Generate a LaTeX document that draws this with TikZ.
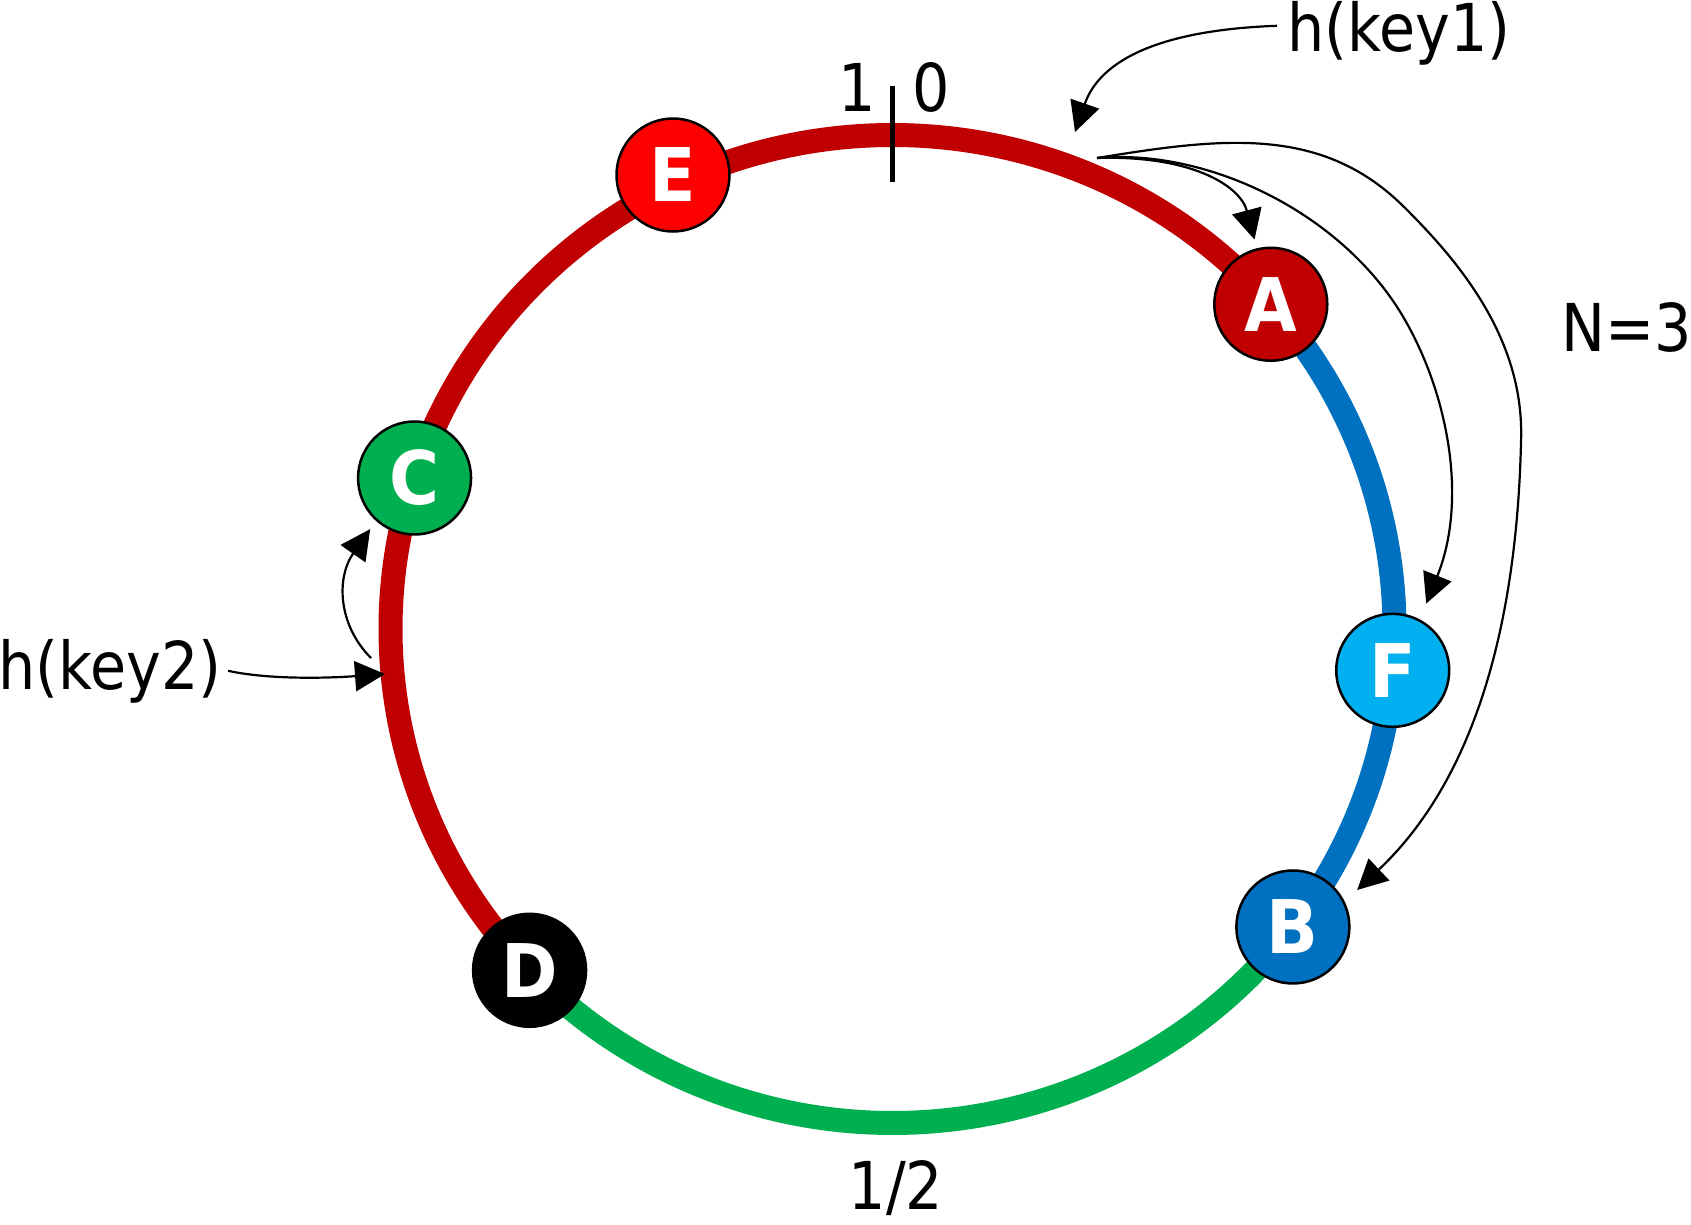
\documentclass[tikz,border=0pt]{standalone}
\usepackage{fontspec}
\setmainfont{DejaVu Sans}
\newfontfamily\labfont{DejaVu Sans}[FakeStretch=0.89]
\newfontfamily\letfont{DejaVu Sans}[FakeStretch=0.92]
\usetikzlibrary{arrows.meta}
\definecolor{ringred}{HTML}{C00000}
\definecolor{brightred}{HTML}{FF0000}
\definecolor{ringgreen}{HTML}{00B050}
\definecolor{ringblue}{HTML}{0070C0}
\definecolor{skyblue}{HTML}{00B0F0}
\begin{document}
\begin{tikzpicture}[x=0.5pt,y=0.5pt,
  ringarc/.style={line width=12pt},
  ringnode/.style={circle,draw=black,line width=1.25pt,minimum size=56.5pt,inner sep=0pt,text=white,font=\letfont\bfseries\fontsize{37}{40}\selectfont},
  lab/.style={inner sep=0pt,anchor=base,font=\labfont\fontsize{33}{40}\selectfont},
  conn/.style={line width=1.1pt,-{Triangle[length=15pt,width=15pt]}},
]
\fill[white] (0,0) rectangle (1691,-1225);
\useasboundingbox (0,0) rectangle (1691,-1225);
\coordinate (O) at (892.5,-629);

% ring arcs
\draw[ringarc,draw=ringred] ([shift={(41.1:502 and 494)}]O) arc[start angle=41.1,end angle=223.7,x radius=502,y radius=494];
\draw[ringarc,draw=ringblue] ([shift={(-37.1:502 and 494)}]O) arc[start angle=-37.1,end angle=41.1,x radius=502,y radius=494];
\draw[ringarc,draw=ringgreen] ([shift={(-136.3:502 and 494)}]O) arc[start angle=-136.3,end angle=-37.1,x radius=502,y radius=494];

% tick at 0/1
\coordinate (t1) at (892,-86);
\coordinate (t2) at (892,-182);
\draw[line width=2.5pt] (t1) -- (t2);

% nodes
\node[ringnode,fill=ringred] (A) at ([shift={(41.1:502 and 494)}]O) {A};
\node[ringnode,fill=skyblue] (F) at ([shift={(-4.8:502 and 494)}]O) {F};
\node[ringnode,fill=ringblue] (B) at ([shift={(-37.1:502 and 494)}]O) {B};
\node[ringnode,fill=black] (D) at ([shift={(223.7:502 and 494)}]O) {D};
\node[ringnode,fill=ringgreen] (C) at ([shift={(162.2:502 and 494)}]O) {C};
\node[ringnode,fill=brightred] (E) at (673,-175) {E};

% labels
\node[lab] (one) at (857,-112) {1};
\node[lab] (zero) at (931,-112) {0};
\node[lab] (half) at (896,-1209) {1/2};
\node[lab] (N) at (1627,-351) {N=3};
\node[lab] (key1) at (1399,-52) {h(key1)};
\node[lab] (key2) at (110,-689) {h(key2)};

% connectors
\coordinate (P) at (1097,-158);
\coordinate (k1tip) at (1075,-132);
\draw[conn] ([shift={(-10,8)}]key1.west) .. controls (1160,-30) and (1100,-60) .. (k1tip);
\draw[conn,shorten >=4.5pt] (P) .. controls (1190,-155) and (1240,-185) .. (A.104);
\draw[conn,shorten >=8.5pt] (P) .. controls (1210,-148) and (1345,-215) .. (1405,-320) .. controls (1448,-395) and (1468,-500) .. (F.62);
\draw[conn,shorten >=8.5pt] (P) .. controls (1220,-138) and (1320,-125) .. (1402,-205) .. controls (1460,-262) and (1525,-340) .. (1521,-442) .. controls (1518,-570) and (1495,-760) .. (B.26);
\coordinate (k2tip) at (385,-674);
\draw[conn] ([shift={(6,0)}]key2.east) .. controls (270,-680) and (330,-678) .. (k2tip);
\coordinate (cst) at (371,-658);
\draw[conn,shorten >=5pt] (cst) .. controls (338,-625) and (336,-578) .. (C.228);
\end{tikzpicture}
\end{document}
